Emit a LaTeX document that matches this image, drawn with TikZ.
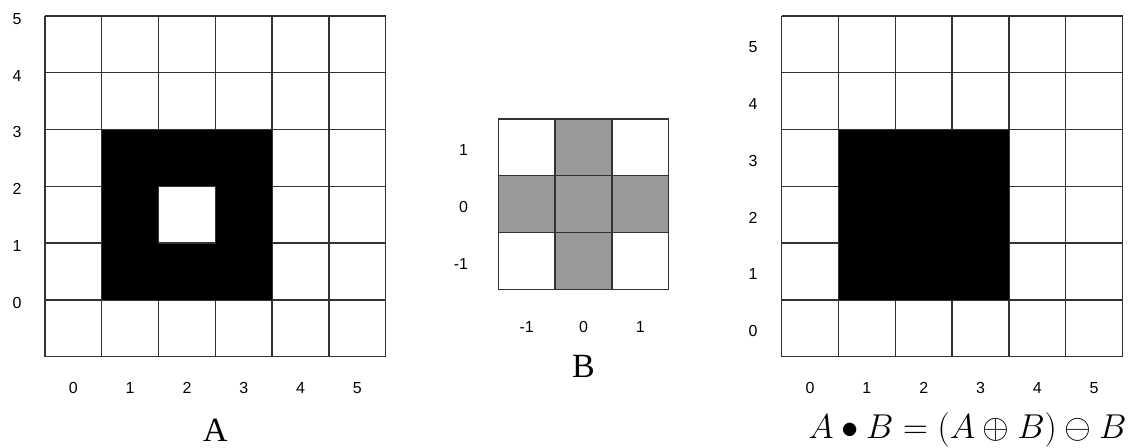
\documentclass[tikz,border=0pt]{standalone}
\usepackage{amsmath}
\usepackage{amssymb}
\usepackage{fontspec}
\setsansfont{Liberation Sans}
\newfontfamily\serifcap{Liberation Serif}
\usepackage{tikz}
\usetikzlibrary{positioning}
\definecolor{gridgray}{HTML}{333333}
\definecolor{crossgray}{HTML}{999999}

\begin{document}
\begin{tikzpicture}[
    cell/.style={draw=gridgray, line width=0.7pt},
    num/.style={font=\sffamily\fontsize{8}{9}\selectfont},
    title/.style={font=\serifcap\fontsize{17}{20}\selectfont}
]
    \useasboundingbox (0,0) rectangle (19.859,7.887);

    % Image A
    \begin{scope}[shift={(0.792,1.607)}]
        \draw[cell] (0,0) grid (6,6);
        \fill[black] (1,1) rectangle (4,4);
        \filldraw[cell, fill=white] (2,2) rectangle (3,3);
        \foreach \i in {0,...,5} {
            \node[num] (ax\i) at (\i+0.5,-0.55) {\i};
            \node[num] (ay\i) at (-0.49,\i+0.95) {\i};
        }
        \node[title] (A) at (3,-1.29) {A};
    \end{scope}

    % Element structurant B
    \begin{scope}[shift={(8.773,2.794)}]
        \fill[crossgray] (1,0) rectangle (2,3);
        \fill[crossgray] (0,1) rectangle (3,2);
        \draw[cell] (0,0) grid (3,3);
        \foreach \i [count=\k from 0] in {-1,0,1} {
            \node[num] (bx\k) at (\k+0.5,-0.66) {\i};
            \node[num, anchor=east] (by\k) at (-0.41,\k+0.45) {\i};
        }
        \node[title] (B) at (1.5,-1.36) {B};
    \end{scope}

    % Fermeture
    \begin{scope}[shift={(13.762,1.607)}]
        \draw[cell] (0,0) grid (6,6);
        \fill[black] (1,1) rectangle (4,4);
        \foreach \i in {0,...,5} {
            \node[num] (cx\i) at (\i+0.5,-0.55) {\i};
            \node[num] (cy\i) at (-0.505,\i+0.45) {\i};
        }
        \node[font=\fontsize{17}{20}\selectfont] (AB) at (3.27,-1.29)
            {$A \bullet B = (A \oplus B) \ominus B$};
    \end{scope}
\end{tikzpicture}
\end{document}
